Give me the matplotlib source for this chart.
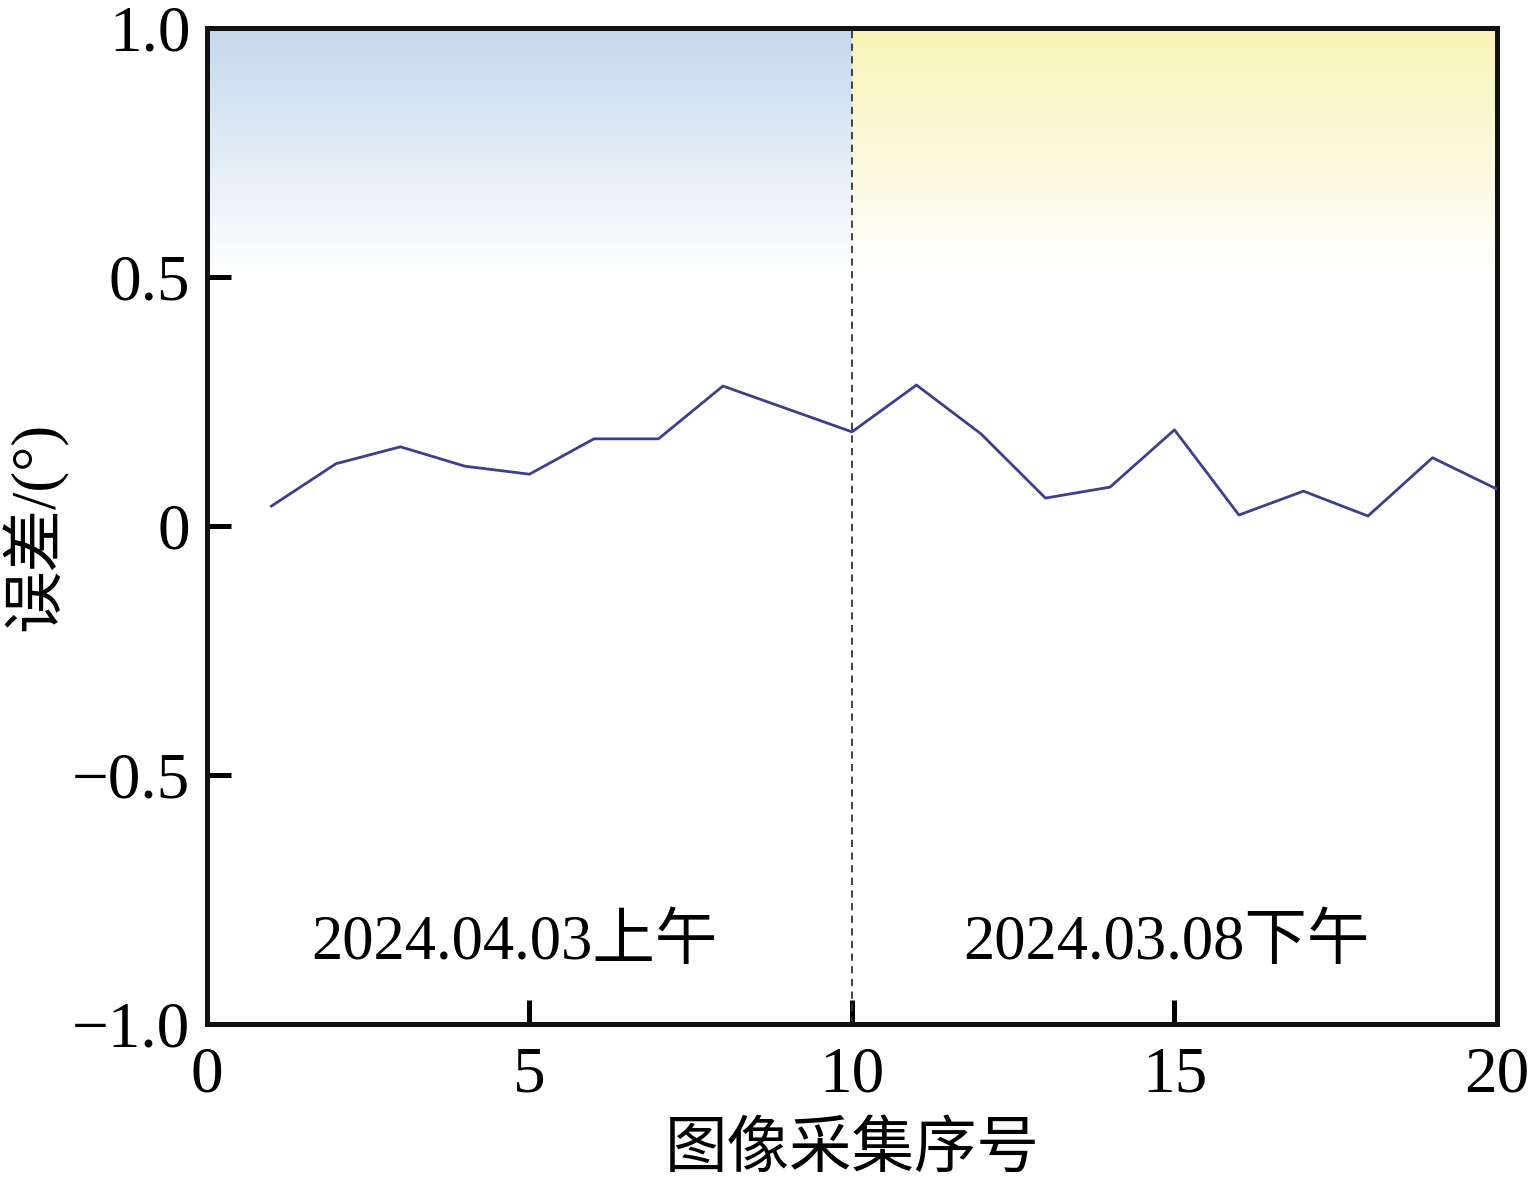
import numpy as np
import matplotlib.pyplot as plt
from matplotlib.colors import to_rgb

plt.rcParams['font.family'] = ['Liberation Serif', 'Noto Sans CJK SC']
plt.rcParams['axes.unicode_minus'] = True

# data
idx = [1, 2, 3, 4, 5, 6, 7, 8, 9, 10, 11, 12, 13, 14, 15, 16, 17, 18, 19, 20]
err = [0.040, 0.125, 0.159, 0.120, 0.104, 0.175, 0.175, 0.281, 0.235, 0.189,
       0.283, 0.185, 0.056, 0.078, 0.193, 0.022, 0.070, 0.020, 0.137, 0.074]
labels = ['2024.04.03上午', '2024.03.08下午']

fig = plt.figure(figsize=(15.33, 11.8), dpi=100)
ax = fig.add_axes([0.135, 0.1322, 0.8415, 0.8441])


def grad(c):
    r, g, b = to_rgb(c)
    t = np.linspace(1, 0, 200)[:, None]
    img = np.zeros((200, 2, 3))
    img[..., 0] = 1 - (1 - r) * t
    img[..., 1] = 1 - (1 - g) * t
    img[..., 2] = 1 - (1 - b) * t
    return img


ax.imshow(grad('#c5d8eb'), extent=[0, 10, 0.5, 1.0], aspect='auto', zorder=0, interpolation='bilinear')
ax.imshow(grad('#f8f4b8'), extent=[10, 20, 0.5, 1.0], aspect='auto', zorder=0, interpolation='bilinear')

ax.plot(idx, err, color='#3d3f8c', lw=2.0, zorder=3)
ax.axvline(10, color='#333333', lw=1.3, ls=(0, (4, 3)), zorder=2)

ax.text(4.76, -0.84, labels[0], ha='center', va='center', fontsize=45)
ax.text(14.87, -0.84, labels[1], ha='center', va='center', fontsize=45)

ax.set_xlim(0, 20)
ax.set_ylim(-1, 1)
ax.set_xticks([0, 5, 10, 15, 20])
ax.set_yticks([-1.0, -0.5, 0, 0.5, 1.0])
ax.set_yticklabels(['\u22121.0', '\u22120.5', '0', '0.5', '1.0'])
ax.tick_params(direction='in', length=17, width=3.6, labelsize=47)
ax.tick_params(axis='y', pad=12)
ax.tick_params(axis='x', pad=16)
for s in ax.spines.values():
    s.set_linewidth(3.6)
    s.set_color('#111111')

ax.set_xlabel('图像采集序号', fontsize=45, labelpad=12)
ax.set_ylabel('误差/(°)', fontsize=45)
ax.yaxis.set_label_coords(-0.108, 0.5)

fig.savefig('out.png', dpi=100)
